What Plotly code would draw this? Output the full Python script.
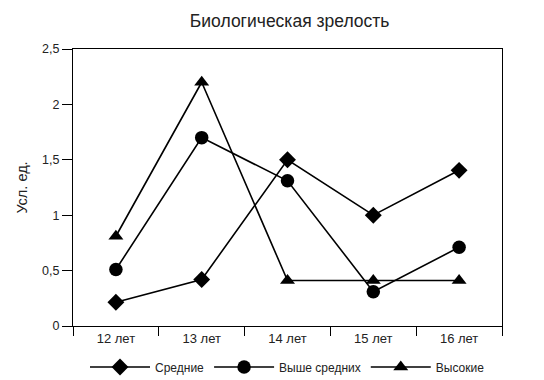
import plotly.graph_objects as go

categories = ["12 лет", "13 лет", "14 лет", "15 лет", "16 лет"]
srednie = [0.215, 0.42, 1.5, 1.0, 1.405]
vyshe_srednih = [0.51, 1.7, 1.31, 0.31, 0.71]
vysokie = [0.81, 2.2, 0.41, 0.41, 0.41]

series = [
    ("Средние", srednie, "diamond", 13),
    ("Выше средних", vyshe_srednih, "circle", 13.5),
    ("Высокие", vysokie, "triangle-up", 13),
]

fig = go.Figure()
for name, vals, sym, sz in series:
    fig.add_trace(go.Scatter(
        x=categories, y=vals, name=name, mode="lines+markers",
        line=dict(color="black", width=1.6),
        marker=dict(symbol=sym, size=sz, color="black"),
    ))

# page body adds an 8px offset, so the figure is sized 536x372
fig.update_layout(
    width=536, height=372,
    margin=dict(l=65, r=42, t=41, b=54, autoexpand=False),
    paper_bgcolor="white", plot_bgcolor="white",
    separators=", ",
    font=dict(family="Liberation Sans, Arial, sans-serif", size=12, color="#222"),
    title=dict(text="Биологическая зрелость", xref="paper", x=0.505,
               xanchor="center", y=0.965, yanchor="middle",
               font=dict(size=17.5, color="#222")),
    showlegend=True,
    legend=dict(orientation="h", x=0.5, xanchor="center", yref="container",
                y=0.035, yanchor="middle", font=dict(size=12), itemwidth=60,
                bgcolor="rgba(0,0,0,0)"),
    xaxis=dict(
        type="category", tickson="boundaries", ticks="outside", ticklen=9,
        tickcolor="black", showline=True, linecolor="black", linewidth=1.2,
        mirror=True, showgrid=False, range=[-0.5, 4.5], automargin=False,
        tickfont=dict(size=13),
    ),
    yaxis=dict(
        range=[0, 2.5], dtick=0.5, ticks="outside", ticklen=10, tickcolor="black",
        showline=True, linecolor="black", linewidth=1.2, mirror=True,
        showgrid=False, zeroline=False, automargin=False,
        tickfont=dict(size=12.5),
        title=dict(text="Усл. ед.", font=dict(size=14.5), standoff=10),
    ),
)

fig.write_html("out.html")
